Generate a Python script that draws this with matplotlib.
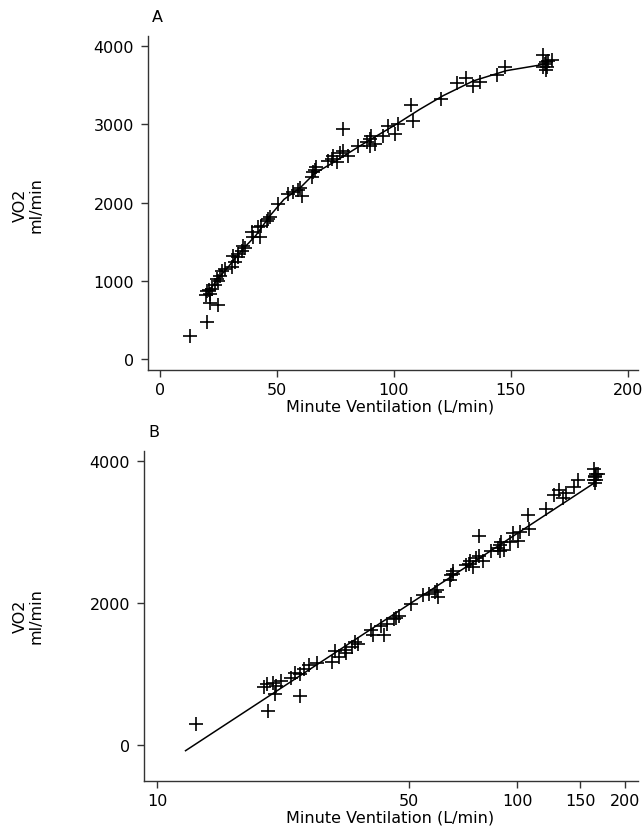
import matplotlib
matplotlib.use('Agg')

import matplotlib.pyplot as plt
from matplotlib.ticker import FixedLocator, NullLocator, FixedFormatter

# =====================
# DATOS
# =====================

# Ventilación minuto (L/min) y VO2 (ml/min), mismos puntos en A y B
ve = [12.8, 20.3, 24.9, 21.2, 19.8, 21.4, 20.2, 22.1, 21.0, 23.5,
      24.2, 25.6, 26.4, 27.8, 25.0, 30.6, 32.1, 31.3, 33.5, 33.3,
      34.9, 36.2, 35.5, 39.9, 39.2, 42.7, 42.0, 43.4, 45.6, 47.0,
      46.0, 50.6, 54.8, 57.0, 59.8, 60.5, 59.0, 65.0, 65.5, 66.5,
      66.2, 73.4, 74.1, 75.5, 72.0, 78.3, 78.3, 80.4, 77.0, 84.8,
      88.3, 89.7, 89.7, 90.4, 91.8, 95.4, 97.6, 100.4, 101.8, 107.5,
      108.3, 120.3, 126.8, 131.0, 133.9, 136.8, 143.9, 147.4, 163.8, 163.8,
      164.5, 165.9, 167.4, 165.2, 164.8, 165.0]
vo2 = [295, 477, 695, 720, 815, 835, 865, 895, 880, 946,
       1020, 1065, 1130, 1150, 1000, 1172, 1236, 1320, 1300, 1345,
       1385, 1420, 1450, 1555, 1620, 1555, 1683, 1705, 1768, 1810,
       1790, 1980, 2110, 2130, 2180, 2088, 2160, 2330, 2390, 2450,
       2410, 2556, 2598, 2513, 2530, 2940, 2662, 2598, 2630, 2726,
       2769, 2812, 2726, 2854, 2747, 2854, 2982, 2876, 3003, 3246,
       3046, 3329, 3527, 3591, 3485, 3545, 3630, 3728, 3885, 3732,
       3770, 3813, 3821, 3728, 3790, 3690]

# Curva suavizada del panel A
curve_a_x = [20.5, 24, 29, 35, 41, 47, 53, 60, 66, 74, 88, 101, 111, 121, 134, 148, 165]
curve_a_y = [840, 1000, 1170, 1390, 1580, 1830, 2040, 2190, 2370, 2510, 2770, 3000,
             3190, 3365, 3555, 3685, 3770]

# Recta del panel B (eje x logarítmico)
line_b_x = [12.0, 165]
line_b_y = [-80, 3700]

xticks_a = [0, 50, 100, 150, 200]
yticks_a = [0, 1000, 2000, 3000, 4000]
xticks_b = [10, 50, 100, 150, 200]
yticks_b = [0, 2000, 4000]

# =====================
# FIGURA
# =====================

W, H = 642, 828
plt.rcParams['font.family'] = ['DejaVu Sans']
FS = 11.5

fig = plt.figure(figsize=(W / 100, H / 100), dpi=100)


def style_axes(ax):
    for side in ['top', 'right']:
        ax.spines[side].set_visible(False)
    for side in ['left', 'bottom']:
        ax.spines[side].set_color('#333333')
        ax.spines[side].set_linewidth(1.0)
    ax.tick_params(direction='out', length=5, width=1.0, color='#333333',
                   labelsize=FS)
    ax.tick_params(axis='x', pad=4)
    ax.tick_params(axis='y', pad=5)


# ---- Panel A ----
ax_a = fig.add_axes([148 / W, 1 - 371 / H, (638 - 148) / W, (371 - 37) / H])
ax_a.plot(ve, vo2, linestyle='none', marker='+', markersize=10,
          markeredgewidth=1.2, color='black')
ax_a.plot(curve_a_x, curve_a_y, color='black', linewidth=1.1)
ax_a.set_xlim(-5.1, 204.3)
ax_a.set_ylim(-140, 4128)
ax_a.set_xticks(xticks_a)
ax_a.set_yticks(yticks_a)
style_axes(ax_a)

# ---- Panel B ----
ax_b = fig.add_axes([144 / W, 1 - 782 / H, (638 - 144) / W, (782 - 452) / H])
ax_b.plot(ve, vo2, linestyle='none', marker='+', markersize=10,
          markeredgewidth=1.2, color='black')
ax_b.plot(line_b_x, line_b_y, color='black', linewidth=1.1)
ax_b.set_xscale('log')
ax_b.set_xlim(9.2, 216.8)
ax_b.set_ylim(-507, 4141)
ax_b.xaxis.set_major_locator(FixedLocator(xticks_b))
ax_b.xaxis.set_major_formatter(FixedFormatter([str(t) for t in xticks_b]))
ax_b.xaxis.set_minor_locator(NullLocator())
ax_b.set_yticks(yticks_b)
style_axes(ax_b)

# =====================
# TEXTOS
# =====================

fig.text(157 / W, 1 - 18 / H, 'A', ha='center', va='center', fontsize=FS)
fig.text(154 / W, 1 - 433 / H, 'B', ha='center', va='center', fontsize=FS)

for yc in [205, 616]:
    fig.text(28 / W, 1 - yc / H, 'VO2\nml/min', rotation=90, ha='center',
             va='center', multialignment='center', linespacing=1.05, fontsize=FS)

for yc in [407, 818]:
    fig.text(390 / W, 1 - yc / H, 'Minute Ventilation (L/min)', ha='center',
             va='center', fontsize=FS)

fig.savefig('out.png', dpi=100, facecolor='white')
